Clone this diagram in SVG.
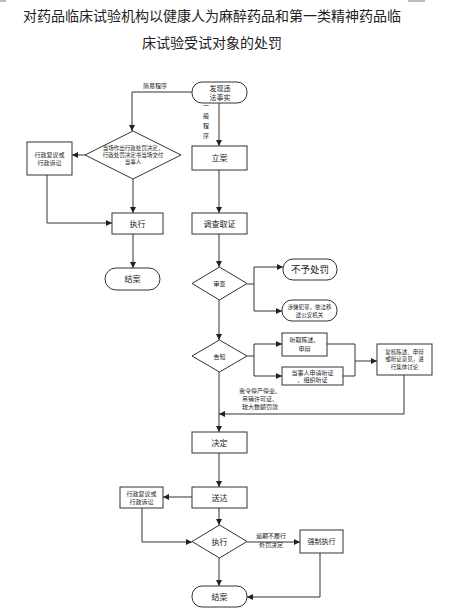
<svg xmlns="http://www.w3.org/2000/svg" width="453" height="614" viewBox="0 0 453 614">
<style>
  .t{font-family:"Noto Sans CJK SC","Liberation Sans",sans-serif;fill:#222;text-anchor:middle}
  .title{font-size:14px}
  .n{font-size:8px}
  .s{font-size:6px}
  .box{fill:#fff;stroke:#333;stroke-width:1}
  .c{fill:none;stroke:#333;stroke-width:1}
</style>
<defs>
  <marker id="a" viewBox="0 0 10 10" refX="10" refY="5" markerWidth="6" markerHeight="6" orient="auto">
    <path d="M0,0 L10,5 L0,10 z" fill="#222"/>
  </marker>
</defs>
<rect width="453" height="614" fill="#fff"/>
<rect x="0" y="0" width="6" height="2" fill="#bbb"/>
<rect x="408" y="0" width="17" height="2" fill="#bbb"/>
<text class="t title" x="212" y="21">对药品临床试验机构以健康人为麻醉药品和第一类精神药品临</text>
<text class="t title" x="212" y="48">床试验受试对象的处罚</text>

<g id="connectors">
  <path class="c" d="M219,103 V146" marker-end="url(#a)"/>
  <path class="c" d="M192,92 H132 V131" marker-end="url(#a)"/>
  <path class="c" d="M85,155 H72" marker-end="url(#a)"/>
  <path class="c" d="M47,175 V223 H112" marker-end="url(#a)"/>
  <path class="c" d="M133,179 V213" marker-end="url(#a)"/>
  <path class="c" d="M133,234 V268" marker-end="url(#a)"/>
  <path class="c" d="M219,170 V213" marker-end="url(#a)"/>
  <path class="c" d="M219,234 V267" marker-end="url(#a)"/>
  <path class="c" d="M247,284 H254 M254,267 V311"/>
  <path class="c" d="M254,267 H283" marker-end="url(#a)"/>
  <path class="c" d="M254,311 H282" marker-end="url(#a)"/>
  <path class="c" d="M219,300 V340" marker-end="url(#a)"/>
  <path class="c" d="M247,356 H254 M254,344 V376"/>
  <path class="c" d="M254,344 H282" marker-end="url(#a)"/>
  <path class="c" d="M254,376 H282" marker-end="url(#a)"/>
  <path class="c" d="M327,344 H355 M343,376 H355 M355,344 V376"/>
  <path class="c" d="M355,361 H377" marker-end="url(#a)"/>
  <path class="c" d="M404,375 V414 H219" marker-end="url(#a)"/>
  <path class="c" d="M219,372 V432" marker-end="url(#a)"/>
  <path class="c" d="M219,453 V487" marker-end="url(#a)"/>
  <path class="c" d="M192,497 H163" marker-end="url(#a)"/>
  <path class="c" d="M142,508 V542 H192" marker-end="url(#a)"/>
  <path class="c" d="M219,508 V525" marker-end="url(#a)"/>
  <path class="c" d="M247,542 H300" marker-end="url(#a)"/>
  <path class="c" d="M219,558 V586" marker-end="url(#a)"/>
  <path class="c" d="M320,553 V597 H247" marker-end="url(#a)"/>
  <text class="t s" x="155" y="88">简易程序</text>
  <text class="t s" x="206" y="108">一</text>
  <text class="t s" x="206" y="118">般</text>
  <text class="t s" x="206" y="128">程</text>
  <text class="t s" x="206" y="138">序</text>
  <text class="t s" x="260" y="393">责令停产停业、</text>
  <text class="t s" x="260" y="401">吊销许可证、</text>
  <text class="t s" x="260" y="409">较大数额罚款</text>
  <text class="t s" x="271" y="538">逾期不履行</text>
  <text class="t s" x="271" y="547">处罚决定</text>
</g>

<g id="start">
  <rect class="box" x="192" y="82" width="55" height="21" rx="10"/>
  <text class="t n" x="220" y="91" style="font-size:7px">发现违</text>
  <text class="t n" x="220" y="100" style="font-size:7px">法事实</text>
</g>
<g id="onsite">
  <polygon class="box" points="133,131 181,155 133,179 85,155"/>
  <text class="t s" x="133" y="150" style="font-size:5.5px">当场作出行政处罚决定，</text>
  <text class="t s" x="133" y="157" style="font-size:5.5px">行政处罚决定书当场交付</text>
  <text class="t s" x="133" y="164" style="font-size:5.5px">当事人</text>
</g>
<g id="review1">
  <rect class="box" x="27" y="142" width="45" height="33"/>
  <text class="t s" x="49.5" y="157">行政复议或</text>
  <text class="t s" x="49.5" y="165">行政诉讼</text>
</g>
<g id="exec1">
  <rect class="box" x="112" y="213" width="51" height="21"/>
  <text class="t n" x="137.5" y="226.5">执行</text>
</g>
<g id="end1">
  <rect class="box" x="105" y="268" width="55" height="22" rx="11"/>
  <text class="t n" x="132.5" y="282">结案</text>
</g>
<g id="filing">
  <rect class="box" x="192" y="146" width="55" height="24"/>
  <text class="t n" x="219.5" y="161">立案</text>
</g>
<g id="investigate">
  <rect class="box" x="192" y="213" width="55" height="21"/>
  <text class="t n" x="219.5" y="226.5">调查取证</text>
</g>
<g id="examine">
  <polygon class="box" points="219.5,267 247,283.5 219.5,300 192,283.5"/>
  <text class="t s" x="219.5" y="286">审查</text>
</g>
<g id="nopenalty">
  <rect class="box" x="283" y="259" width="54" height="21" rx="10"/>
  <text class="t" x="310" y="273" style="font-size:9.5px">不予处罚</text>
</g>
<g id="transfer">
  <rect class="box" x="282" y="300" width="55" height="21" rx="10"/>
  <text class="t s" x="309.5" y="309" style="font-size:5.5px">涉嫌犯罪，依法移</text>
  <text class="t s" x="309.5" y="316.5" style="font-size:5.5px">送公安机关</text>
</g>
<g id="notify">
  <polygon class="box" points="219.5,340 247,356 219.5,372 192,356"/>
  <text class="t s" x="219.5" y="358.5">告知</text>
</g>
<g id="statement">
  <rect class="box" x="282" y="333" width="45" height="23"/>
  <text class="t s" x="304.5" y="342">听取陈述、</text>
  <text class="t s" x="304.5" y="351">申辩</text>
</g>
<g id="hearing">
  <rect class="box" x="282" y="367" width="61" height="18"/>
  <text class="t s" x="312.5" y="374.5">当事人申请听证</text>
  <text class="t s" x="312.5" y="382">、组织听证</text>
</g>
<g id="discuss">
  <rect class="box" x="377" y="344" width="55" height="31"/>
  <text class="t s" x="404.5" y="353.5" style="font-size:5.5px">复核陈述、申辩</text>
  <text class="t s" x="404.5" y="361" style="font-size:5.5px">或听证意见，进</text>
  <text class="t s" x="404.5" y="368.5" style="font-size:5.5px">行集体讨论</text>
</g>
<g id="decide">
  <rect class="box" x="192" y="432" width="55" height="21"/>
  <text class="t n" x="219.5" y="445.5">决定</text>
</g>
<g id="deliver">
  <rect class="box" x="192" y="487" width="55" height="21"/>
  <text class="t n" x="219.5" y="500.5">送达</text>
</g>
<g id="review2">
  <rect class="box" x="120" y="487" width="43" height="21"/>
  <text class="t s" x="141.5" y="496">行政复议或</text>
  <text class="t s" x="141.5" y="504">行政诉讼</text>
</g>
<g id="exec2">
  <polygon class="box" points="219.5,525 247,541.5 219.5,558 192,541.5"/>
  <text class="t n" x="219.5" y="544.5">执行</text>
</g>
<g id="force">
  <rect class="box" x="300" y="530" width="43" height="23"/>
  <text class="t s" x="321.5" y="544" style="font-size:7px">强制执行</text>
</g>
<g id="end2">
  <rect class="box" x="192" y="586" width="55" height="21" rx="10"/>
  <text class="t n" x="219.5" y="599.5">结案</text>
</g>
</svg>
